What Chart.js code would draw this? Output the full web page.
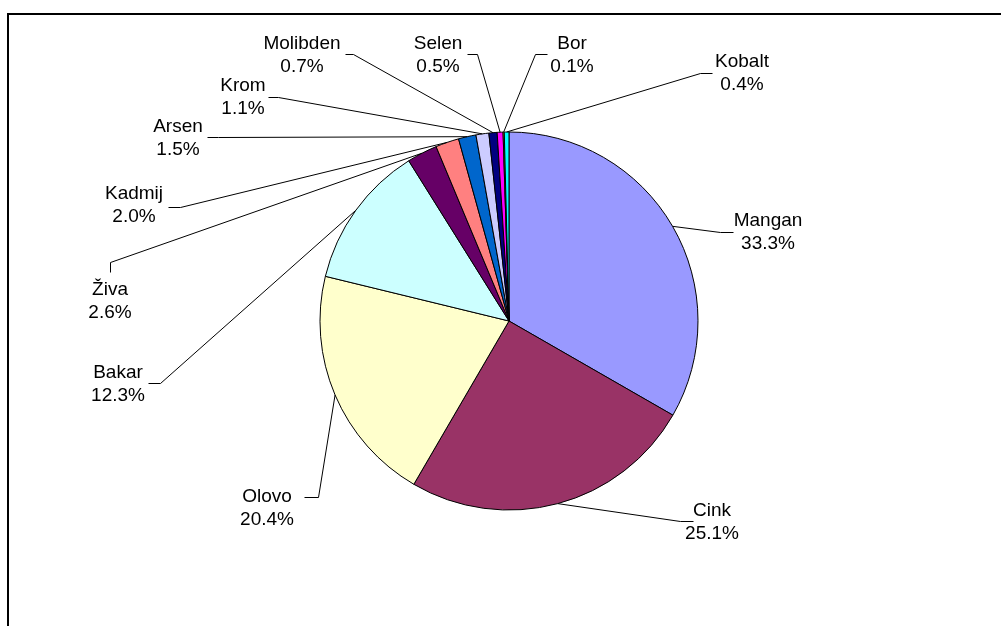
<!DOCTYPE html>
<html lang="hr">
<head>
    <meta charset="UTF-8">
    <title>Udio metala</title>
    <script src="https://cdn.jsdelivr.net/npm/chart.js"></script>
    <style>
        body { margin: 0; background: #fff; }
        #wrap { position: relative; width: 1001px; height: 626px; }
    </style>
</head>
<body>
    <div id="wrap"><canvas id="pie" width="1001" height="626"></canvas></div>

    <script>
        const labels = ["Mangan", "Cink", "Olovo", "Bakar", "Živa", "Kadmij", "Arsen", "Krom", "Molibden", "Selen", "Bor", "Kobalt"];
        const shares = [33.3, 25.1, 20.4, 12.3, 2.6, 2.0, 1.5, 1.1, 0.7, 0.5, 0.1, 0.4];
        const colors = ["#9999FF", "#993366", "#FFFFCC", "#CCFFFF", "#660066", "#FF8080", "#0066CC", "#CCCCFF", "#000080", "#FF00FF", "#FFFF00", "#00FFFF"];

        // where each label sits: text centre, leader elbow, end of the short stub
        const labelLayout = [
            { tx: 768, ty: 221, elbow: [720, 232], stub: [733, 232] },
            { tx: 712, ty: 511, elbow: [680, 521], stub: [693, 521] },
            { tx: 267, ty: 497, elbow: [318, 497], stub: [304, 497] },
            { tx: 118, ty: 373, elbow: [160, 383], stub: [148, 383] },
            { tx: 110, ty: 290, elbow: [110, 262], stub: [110, 272] },
            { tx: 134, ty: 194, elbow: [180, 207], stub: [168, 207] },
            { tx: 178, ty: 127, elbow: [218, 137], stub: [207, 137] },
            { tx: 243, ty: 86, elbow: [278, 97], stub: [268, 97] },
            { tx: 302, ty: 44, elbow: [353, 54], stub: [345, 54] },
            { tx: 438, ty: 44, elbow: [477, 54], stub: [467, 54] },
            { tx: 572, ty: 44, elbow: [535, 54], stub: [547, 54] },
            { tx: 742, ty: 62, elbow: [700, 73], stub: [712, 73] }
        ];

        const framePlugin = {
            id: 'frame',
            beforeDraw(chart) {
                const ctx = chart.ctx;
                ctx.save();
                ctx.fillStyle = '#fff';
                ctx.fillRect(0, 0, chart.width, chart.height);
                ctx.fillStyle = '#000';
                ctx.fillRect(7, 13, chart.width - 7, 2);
                ctx.fillRect(7, 13, 2, chart.height - 13);
                ctx.restore();
            }
        };

        const leaderLabels = {
            id: 'leaderLabels',
            afterDatasetsDraw(chart) {
                const ctx = chart.ctx;
                const meta = chart.getDatasetMeta(0);
                ctx.save();
                ctx.strokeStyle = '#000';
                ctx.lineWidth = 1;
                ctx.fillStyle = '#000';
                ctx.font = '19px "Liberation Sans", Arial, sans-serif';
                ctx.textAlign = 'center';
                ctx.textBaseline = 'middle';
                meta.data.forEach((arc, i) => {
                    const p = arc.getProps(['x', 'y', 'startAngle', 'endAngle', 'outerRadius'], true);
                    const mid = (p.startAngle + p.endAngle) / 2;
                    const ax = p.x + Math.cos(mid) * p.outerRadius;
                    const ay = p.y + Math.sin(mid) * p.outerRadius;
                    const l = labelLayout[i];
                    ctx.beginPath();
                    ctx.moveTo(ax, ay);
                    ctx.lineTo(l.elbow[0] + 0.5, l.elbow[1] + 0.5);
                    ctx.lineTo(l.stub[0] + 0.5, l.stub[1] + 0.5);
                    ctx.stroke();
                    ctx.fillText(labels[i], l.tx, l.ty);
                    ctx.fillText(shares[i].toFixed(1) + '%', l.tx, l.ty + 23);
                });
                ctx.restore();
            }
        };

        new Chart(document.getElementById('pie'), {
            type: 'pie',
            data: {
                labels: labels,
                datasets: [{
                    data: shares,
                    backgroundColor: colors,
                    borderColor: '#000',
                    borderWidth: 1
                }]
            },
            options: {
                responsive: false,
                animation: false,
                radius: 189,
                layout: { padding: { left: 320, right: 303, top: 132, bottom: 116 } },
                plugins: {
                    legend: { display: false },
                    tooltip: { enabled: false }
                }
            },
            plugins: [framePlugin, leaderLabels]
        });
    </script>
</body>
</html>
